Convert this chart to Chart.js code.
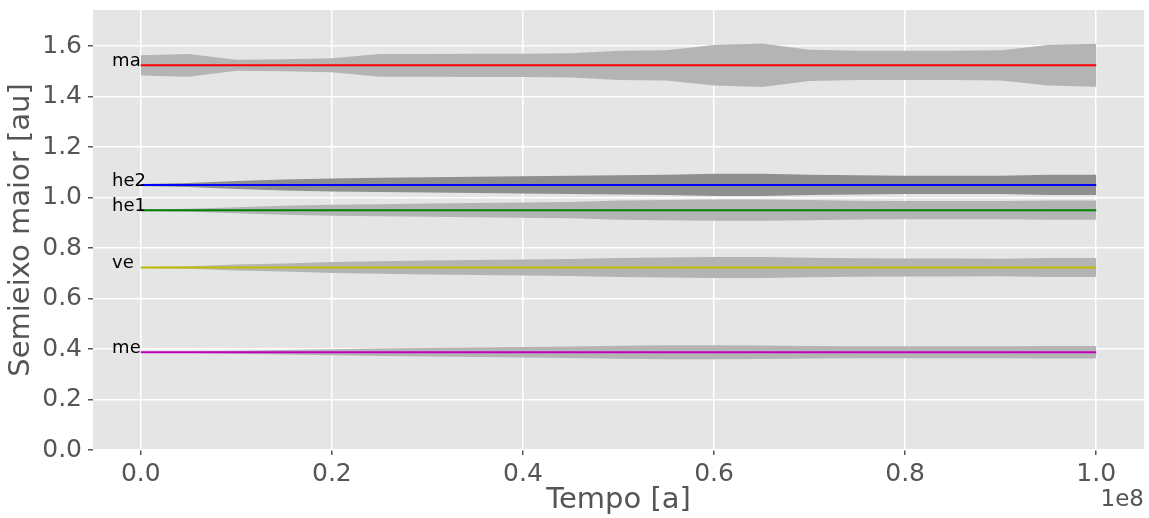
<!DOCTYPE html>
<html>
<head>
<meta charset="utf-8">
<script src="https://cdn.jsdelivr.net/npm/chart.js@4"></script>
<style>
  html, body { margin: 0; padding: 0; background: #fff; }
  #wrap { width: 1149px; height: 518px; }
</style>
</head>
<body>
<div id="wrap"><canvas id="myChart" width="1149" height="518"></canvas></div>
<script>
// tempo em unidades de 1e8 anos
var tempo = [0.00, 0.05, 0.10, 0.15, 0.20, 0.25, 0.30, 0.35, 0.40, 0.45, 0.50,
             0.55, 0.60, 0.65, 0.70, 0.75, 0.80, 0.85, 0.90, 0.95, 1.00];
var escala = 1e8;

var planetas = ['ma', 'he2', 'he1', 've', 'me'];
var semieixo = [1.524, 1.050, 0.950, 0.723, 0.387];
var cores = ['#ff0000', '#0000ff', '#008000', '#bfbf00', '#bf00bf'];

// meia largura da oscilacao [au]
var ampMa  = [0.040, 0.045, 0.022, 0.024, 0.028, 0.045, 0.045, 0.046, 0.046, 0.048, 0.058,
              0.060, 0.080, 0.086, 0.062, 0.058, 0.058, 0.058, 0.060, 0.080, 0.085];
var ampHe2 = [0.004, 0.008, 0.016, 0.022, 0.026, 0.028, 0.030, 0.032, 0.034, 0.036, 0.038,
              0.040, 0.044, 0.044, 0.040, 0.038, 0.036, 0.036, 0.036, 0.040, 0.040];
var ampHe1 = [0.003, 0.006, 0.012, 0.018, 0.022, 0.024, 0.026, 0.028, 0.030, 0.032, 0.038,
              0.040, 0.042, 0.042, 0.040, 0.037, 0.036, 0.036, 0.036, 0.038, 0.038];
var ampVe  = [0.003, 0.005, 0.012, 0.016, 0.022, 0.025, 0.028, 0.030, 0.032, 0.034, 0.038,
              0.040, 0.042, 0.042, 0.039, 0.037, 0.036, 0.036, 0.035, 0.038, 0.038];
var ampMe  = [0.002, 0.003, 0.006, 0.009, 0.012, 0.015, 0.017, 0.019, 0.021, 0.023, 0.026,
              0.028, 0.028, 0.027, 0.025, 0.024, 0.024, 0.024, 0.024, 0.025, 0.025];
var amplitudes = [ampMa, ampHe2, ampHe1, ampVe, ampMe];
var coresFaixa = ['#b4b4b4', '#8f8f8f', '#b4b4b4', '#b4b4b4', '#b4b4b4'];

var xTicks = [0.0, 0.2, 0.4, 0.6, 0.8, 1.0];
var yTicks = [0.0, 0.2, 0.4, 0.6, 0.8, 1.0, 1.2, 1.4, 1.6];

var fonte = "'DejaVu Sans', sans-serif";

var datasets = [];

// linhas medias
for (var i = 0; i < planetas.length; i++) {
    datasets.push({
        label: planetas[i],
        data: [{x: 0, y: semieixo[i]}, {x: escala, y: semieixo[i]}],
        borderColor: cores[i],
        borderWidth: 2,
        pointRadius: 0,
        fill: false,
        order: 1
    });
}

// faixas de oscilacao (superior preenche ate a inferior)
for (var i = 0; i < planetas.length; i++) {
    var sup = [], inf = [];
    for (var k = 0; k < tempo.length; k++) {
        sup.push({x: tempo[k] * escala, y: semieixo[i] + amplitudes[i][k]});
        inf.push({x: tempo[k] * escala, y: semieixo[i] - amplitudes[i][k]});
    }
    datasets.push({
        data: sup,
        borderWidth: 0,
        borderColor: 'rgba(0,0,0,0)',
        backgroundColor: coresFaixa[i],
        pointRadius: 0,
        fill: '+1',
        order: 2
    });
    datasets.push({
        data: inf,
        borderWidth: 0,
        borderColor: 'rgba(0,0,0,0)',
        pointRadius: 0,
        fill: false,
        order: 2
    });
}

var fundo = {
    id: 'fundo',
    beforeDraw: function (chart) {
        var a = chart.chartArea, ctx = chart.ctx;
        ctx.save();
        ctx.fillStyle = '#e5e5e5';
        ctx.fillRect(a.left, a.top, a.right - a.left, a.bottom - a.top);
        ctx.restore();
    }
};

var rotulos = {
    id: 'rotulos',
    afterDatasetsDraw: function (chart) {
        var ctx = chart.ctx, sx = chart.scales.x, sy = chart.scales.y;
        ctx.save();
        ctx.font = "18px " + fonte;
        ctx.fillStyle = '#000';
        ctx.textAlign = 'left';
        ctx.textBaseline = 'alphabetic';
        for (var i = 0; i < planetas.length; i++) {
            ctx.fillText(planetas[i], sx.getPixelForValue(-0.03 * escala), sy.getPixelForValue(semieixo[i]) + 1);
        }
        // fator de escala do eixo x
        ctx.font = "23px " + fonte;
        ctx.fillStyle = '#555';
        ctx.textAlign = 'right';
        ctx.fillText('1e8', chart.chartArea.right, 506);
        ctx.restore();
    }
};

var ctx = document.getElementById('myChart');
var myChart = new Chart(ctx, {
    type: 'line',
    data: {datasets: datasets},
    plugins: [fundo, rotulos],
    options: {
        responsive: false,
        animation: false,
        layout: {padding: {top: 10, right: 5, left: 0, bottom: 0}},
        plugins: {legend: {display: false}, tooltip: {enabled: false}},
        scales: {
            x: {
                type: 'linear',
                min: -0.05 * escala,
                max: 1.05 * escala,
                afterBuildTicks: function (scale) {
                    scale.ticks = xTicks.map(function (v) { return {value: v * escala}; });
                },
                afterFit: function (scale) {
                    scale.height = 68;
                    scale.paddingLeft = 0;
                    scale.paddingRight = 0;
                },
                ticks: {
                    color: '#555',
                    font: {family: fonte, size: 25},
                    padding: 4,
                    maxRotation: 0,
                    callback: function (v) { return (v / escala).toFixed(1); }
                },
                grid: {color: '#ffffff', lineWidth: 1.5, tickColor: '#555', tickLength: 5},
                border: {display: false},
                title: {
                    display: true,
                    text: 'Tempo [a]',
                    color: '#555',
                    font: {family: fonte, size: 29},
                    padding: {top: 0, bottom: 0}
                }
            },
            y: {
                type: 'linear',
                min: 0,
                max: 1.743,
                afterBuildTicks: function (scale) {
                    scale.ticks = yTicks.map(function (v) { return {value: v}; });
                },
                afterFit: function (scale) {
                    scale.width = 93;
                    scale.paddingTop = 0;
                    scale.paddingBottom = 0;
                },
                ticks: {
                    color: '#555',
                    font: {family: fonte, size: 25},
                    padding: 6,
                    callback: function (v) { return v.toFixed(1); }
                },
                grid: {color: '#ffffff', lineWidth: 1.5, tickColor: '#555', tickLength: 5},
                border: {display: false},
                title: {
                    display: true,
                    text: 'Semieixo maior [au]',
                    color: '#555',
                    font: {family: fonte, size: 29},
                    padding: {top: 4, bottom: 0}
                }
            }
        }
    }
});
</script>
</body>
</html>
